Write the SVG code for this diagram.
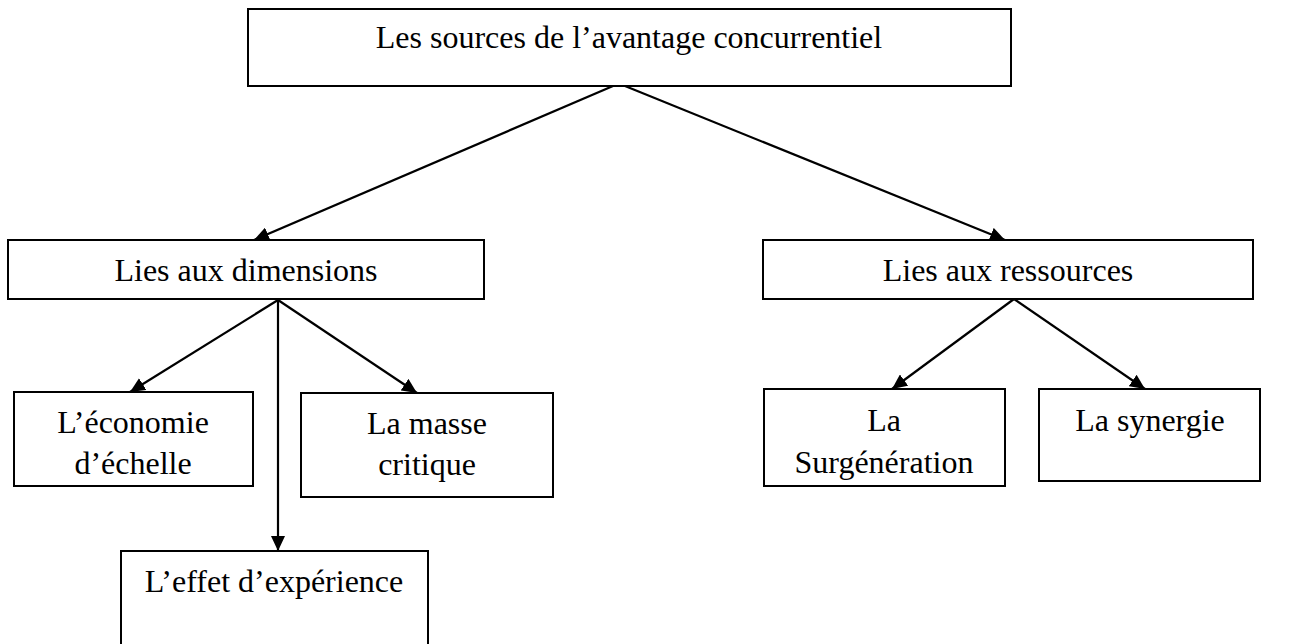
<svg xmlns="http://www.w3.org/2000/svg" width="1293" height="644" viewBox="0 0 1293 644">
<defs>
<style>
.box{fill:#fff;stroke:#000;stroke-width:2}
.t{font-family:"Liberation Serif","Times New Roman",serif;font-size:32px;fill:#000;text-anchor:middle}
.c{stroke:#000;stroke-width:2.2;fill:none;marker-end:url(#ah)}
</style>
<marker id="ah" markerUnits="userSpaceOnUse" markerWidth="16" markerHeight="14" refX="15" refY="7" orient="auto">
<path d="M0,0 L15,7 L0,14 z" fill="#000"/>
</marker>
</defs>
<rect width="1293" height="644" fill="#fff"/>
<g id="connectors">
<line class="c" x1="613" y1="86" x2="254" y2="240"/>
<line class="c" x1="625" y1="86" x2="1005" y2="240"/>
<line class="c" x1="278" y1="300" x2="130" y2="392"/>
<line class="c" x1="278" y1="300" x2="278" y2="551"/>
<line class="c" x1="278" y1="300" x2="417" y2="393"/>
<line class="c" x1="1014" y1="299" x2="892" y2="389"/>
<line class="c" x1="1014" y1="299" x2="1145" y2="389"/>
</g>
<g id="n-top">
<rect class="box" x="248" y="9" width="763" height="77"/>
<text class="t" x="629" y="48">Les sources de l’avantage concurrentiel</text>
</g>
<g id="n-dimensions">
<rect class="box" x="8" y="240" width="476" height="59"/>
<text class="t" x="246" y="281">Lies aux dimensions</text>
</g>
<g id="n-ressources">
<rect class="box" x="763" y="240" width="490" height="59"/>
<text class="t" x="1008" y="281">Lies aux ressources</text>
</g>
<g id="n-economie">
<rect class="box" x="14" y="392" width="239" height="94"/>
<text class="t" x="133" y="433">L’économie</text>
<text class="t" x="133" y="474">d’échelle</text>
</g>
<g id="n-masse">
<rect class="box" x="301" y="393" width="252" height="104"/>
<text class="t" x="427" y="434">La masse</text>
<text class="t" x="427" y="475">critique</text>
</g>
<g id="n-effet">
<rect class="box" x="121" y="551" width="307" height="110"/>
<text class="t" x="274" y="592">L’effet d’expérience</text>
</g>
<g id="n-surgeneration">
<rect class="box" x="764" y="389" width="241" height="97"/>
<text class="t" x="884" y="431">La</text>
<text class="t" x="884" y="473">Surgénération</text>
</g>
<g id="n-synergie">
<rect class="box" x="1039" y="389" width="221" height="92"/>
<text class="t" x="1150" y="431">La synergie</text>
</g>
</svg>
